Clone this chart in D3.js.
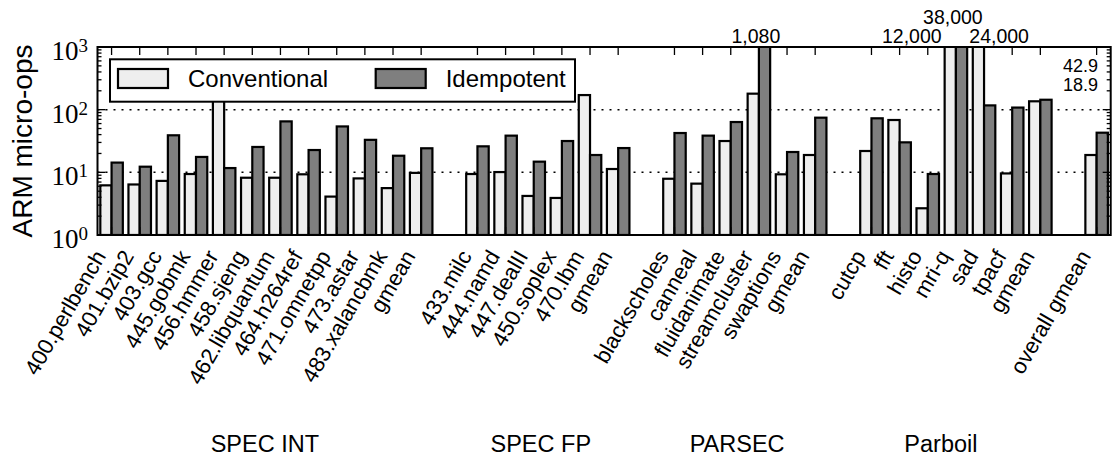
<!DOCTYPE html>
<html>
<head>
<meta charset="utf-8">
<script src="https://cdn.jsdelivr.net/npm/d3@7"></script>
<style>
  body { margin: 0; background: #fff; }
  text { font-family: "Liberation Sans", Arial, sans-serif; fill: #000; }
  .serif { font-family: "Liberation Serif", "Times New Roman", serif; }
</style>
</head>
<body>
<div id="chart"></div>
<script>
// benchmark slots, "" = gap between suites
const benchmarks = ["400.perlbench", "401.bzip2", "403.gcc", "445.gobmk", "456.hmmer", "458.sjeng",
  "462.libquantum", "464.h264ref", "471.omnetpp", "473.astar", "483.xalancbmk", "gmean", "",
  "433.milc", "444.namd", "447.dealII", "450.soplex", "470.lbm", "gmean", "",
  "blackscholes", "canneal", "fluidanimate", "streamcluster", "swaptions", "gmean", "",
  "cutcp", "fft", "histo", "mri-q", "sad", "tpacf", "gmean", "",
  "overall gmean"];

const conventional = [6.2, 6.4, 7.3, 9.4, 250, 8.2, 8.2, 9.3, 4.1, 8.0, 5.6, 9.8, null,
  9.4, 10.1, 4.2, 3.9, 171, 11.3, null,
  7.9, 6.6, 31.6, 180, 9.3, 18.9, null,
  21.9, 68.4, 2.67, 12000, 24000, 9.6, 136, null,
  18.9];
const idempotent = [14.3, 12.3, 39, 17.6, 11.7, 25.4, 65, 22.7, 54, 33, 18.4, 24.2, null,
  26, 38.5, 14.8, 31.6, 18.9, 24.4, null,
  42.4, 38.5, 63.5, 1080, 21.1, 74.5, null,
  72.8, 30.1, 9.4, 38000, 117, 108, 144, null,
  42.9];

const series = ["Conventional", "Idempotent"];
const suites = ["SPEC INT", "SPEC FP", "PARSEC", "Parboil"];
const suiteFirst = [0, 13, 20, 27];
const suiteLast = [11, 18, 25, 33];
const suiteShift = [-1.5, -7, -7.7, -15];
const yTicks = [1, 10, 100, 1000];

// bars that run off the top, with their value written above
const offSlots = [23, 30, 30, 31];
const offSeries = [1, 0, 1, 0];

const W = 1114, H = 458;
const L = 97.5, R = 1110.7, T = 47, B = 235;
const colors = ["#eeeeee", "#7f7f7f"];
const values = [conventional, idempotent];

const svg = d3.select("#chart").append("svg")
  .attr("width", W).attr("height", H);

const x = d3.scaleBand().domain(d3.range(benchmarks.length)).range([L, R]).padding(0);
const xs = d3.scaleBand().domain([0, 1]).range([0, x.bandwidth()]).paddingInner(0).paddingOuter(0.25);
const y = d3.scaleLog().domain([1, 1000]).range([B, T]);
const cx = i => x(i) + x.bandwidth() / 2;

svg.append("clipPath").attr("id", "plot")
  .append("rect").attr("x", L).attr("y", T).attr("width", R - L).attr("height", B - T);

// dotted grid at major decades
svg.append("g").selectAll("line")
  .data([10, 100]).enter().append("line")
  .attr("x1", L).attr("x2", R)
  .attr("y1", d => y(d)).attr("y2", d => y(d))
  .attr("stroke", "#000").attr("stroke-width", 1.5)
  .attr("stroke-dasharray", "2,6");

// bars
const slots = d3.range(benchmarks.length).filter(i => benchmarks[i] !== "");
const bars = svg.append("g").attr("clip-path", "url(#plot)");
series.forEach((s, k) => {
  bars.append("g").selectAll("rect")
    .data(slots).enter().append("rect")
    .attr("x", i => x(i) + xs(k))
    .attr("width", xs.bandwidth())
    .attr("y", i => y(values[k][i]))
    .attr("height", i => B - y(values[k][i]))
    .attr("fill", colors[k])
    .attr("stroke", "#000").attr("stroke-width", 2.2);
});

// ticks: top/bottom at each benchmark, left/right log ticks
const minor = [];
[1, 10, 100].forEach(d => d3.range(2, 10).forEach(m => minor.push(d * m)));

const tickG = svg.append("g").attr("stroke", "#000").attr("stroke-width", 1.3);
slots.forEach(i => {
  tickG.append("line").attr("x1", cx(i)).attr("x2", cx(i)).attr("y1", T).attr("y2", T + 8);
  tickG.append("line").attr("x1", cx(i)).attr("x2", cx(i)).attr("y1", B).attr("y2", B - 8);
});
yTicks.forEach(d => {
  tickG.append("line").attr("x1", L).attr("x2", L + 8).attr("y1", y(d)).attr("y2", y(d));
  tickG.append("line").attr("x1", R).attr("x2", R - 8).attr("y1", y(d)).attr("y2", y(d));
});
minor.forEach(d => {
  tickG.append("line").attr("x1", L).attr("x2", L + 4).attr("y1", y(d)).attr("y2", y(d));
  tickG.append("line").attr("x1", R).attr("x2", R - 4).attr("y1", y(d)).attr("y2", y(d));
});

// frame
svg.append("rect")
  .attr("x", L).attr("y", T).attr("width", R - L).attr("height", B - T)
  .attr("fill", "none").attr("stroke", "#000").attr("stroke-width", 2);

// y tick labels 10^k
yTicks.forEach(d => {
  const t = svg.append("text").attr("class", "serif")
    .attr("x", 88).attr("y", y(d) + 13).attr("text-anchor", "end");
  t.append("tspan").attr("font-size", 27).text("10");
  t.append("tspan").attr("font-size", 19).attr("dy", -8).text(Math.round(Math.log10(d)));
});

svg.append("text")
  .attr("transform", `translate(32,${(T + B) / 2}) rotate(-90)`)
  .attr("text-anchor", "middle").attr("font-size", 28)
  .text("ARM micro-ops");

// x labels rotated
svg.append("g").selectAll("text")
  .data(slots).enter().append("text")
  .attr("transform", i => `translate(${cx(i) - 5},256) rotate(-60)`)
  .attr("text-anchor", "end").attr("font-size", 22)
  .text(i => benchmarks[i]);

// suite names
suites.forEach((s, g) => {
  svg.append("text")
    .attr("x", (cx(suiteFirst[g]) + cx(suiteLast[g])) / 2 + suiteShift[g])
    .attr("y", 452).attr("text-anchor", "middle").attr("font-size", 23.5)
    .text(s);
});

// values for bars beyond 10^3
const fmt = d3.format(",");
offSlots.forEach((i, n) => {
  const k = offSeries[n];
  const v = values[k][i];
  let anchor = "middle", tx = cx(i) - 3, ty = 42.7;
  if (i === 30 && k === 0) { anchor = "end"; tx = x(i) + xs(0) - 3; }
  if (i === 30 && k === 1) { ty = 24; }
  if (i === 31) { anchor = "start"; tx = x(i) + xs(0) - 3.5; }
  svg.append("text").attr("x", tx).attr("y", ty)
    .attr("text-anchor", anchor).attr("font-size", 19.5).text(fmt(v));
});

// overall gmean values
const last = benchmarks.length - 1;
[idempotent[last], conventional[last]].forEach((v, n) => {
  svg.append("text").attr("x", 1098).attr("y", 72.3 + n * 18.7)
    .attr("text-anchor", "end").attr("font-size", 18).text(d3.format(".1f")(v));
});

// legend
const lg = svg.append("g");
lg.append("rect").attr("x", 110).attr("y", 59.3).attr("width", 465).attr("height", 42.4)
  .attr("fill", "#fff").attr("stroke", "#000").attr("stroke-width", 2);
const legX = [118, 375.7];
series.forEach((s, k) => {
  lg.append("rect").attr("x", legX[k]).attr("y", 69).attr("width", 50).attr("height", 19)
    .attr("fill", colors[k]).attr("stroke", "#000").attr("stroke-width", 2.2);
  lg.append("text").attr("x", legX[k] + 70).attr("y", 87.3)
    .attr("font-size", 24).text(s);
});
</script>
</body>
</html>
